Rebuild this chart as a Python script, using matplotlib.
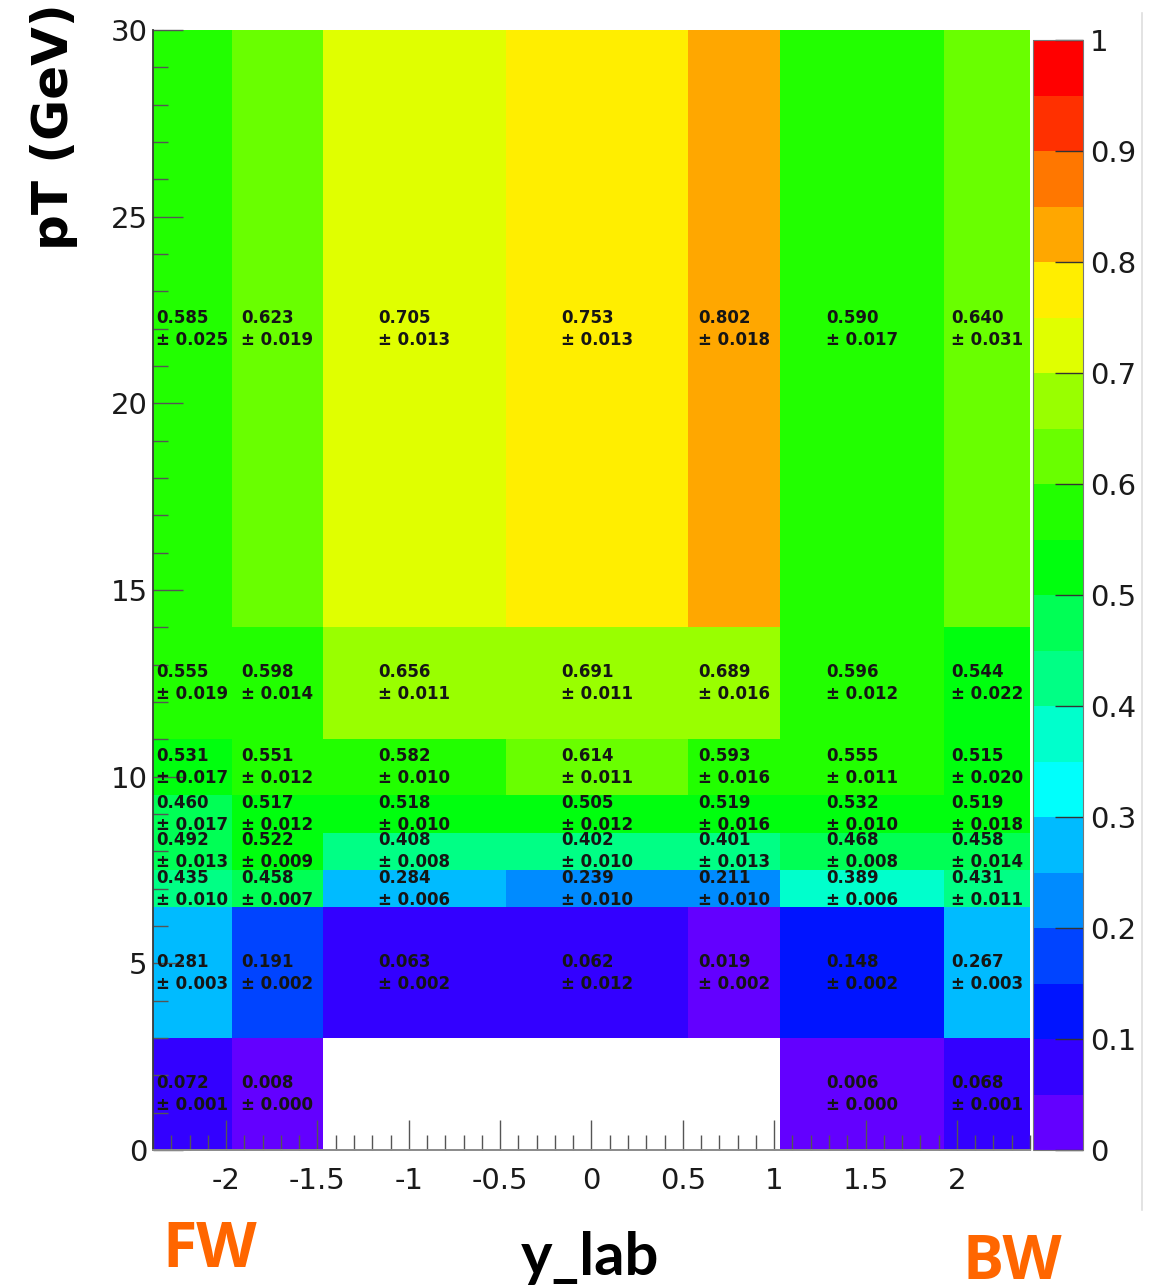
import colorsys
import numpy as np
import matplotlib
matplotlib.use("Agg")
import matplotlib.pyplot as plt
from matplotlib.colors import ListedColormap, BoundaryNorm
from matplotlib.cm import ScalarMappable
from matplotlib.lines import Line2D

nan = np.nan

# ---------------- data ----------------
y_lab_edges = [-2.4, -1.97, -1.47, -0.47, 0.53, 1.03, 1.93, 2.4]
pt_edges = [0, 3, 6.5, 7.5, 8.5, 9.5, 11, 14, 30]

# efficiency per pT row (bottom -> top), one value per y_lab column
eff_pt_0_3    = [0.072, 0.008, nan, nan, nan, 0.006, 0.068]
eff_pt_3_65   = [0.281, 0.191, 0.063, 0.062, 0.019, 0.148, 0.267]
eff_pt_65_75  = [0.435, 0.458, 0.284, 0.239, 0.211, 0.389, 0.431]
eff_pt_75_85  = [0.492, 0.522, 0.408, 0.402, 0.401, 0.468, 0.458]
eff_pt_85_95  = [0.460, 0.517, 0.518, 0.505, 0.519, 0.532, 0.519]
eff_pt_95_11  = [0.531, 0.551, 0.582, 0.614, 0.593, 0.555, 0.515]
eff_pt_11_14  = [0.555, 0.598, 0.656, 0.691, 0.689, 0.596, 0.544]
eff_pt_14_30  = [0.585, 0.623, 0.705, 0.753, 0.802, 0.590, 0.640]

err_pt_0_3    = [0.001, 0.000, nan, nan, nan, 0.000, 0.001]
err_pt_3_65   = [0.003, 0.002, 0.002, 0.012, 0.002, 0.002, 0.003]
err_pt_65_75  = [0.010, 0.007, 0.006, 0.010, 0.010, 0.006, 0.011]
err_pt_75_85  = [0.013, 0.009, 0.008, 0.010, 0.013, 0.008, 0.014]
err_pt_85_95  = [0.017, 0.012, 0.010, 0.012, 0.016, 0.010, 0.018]
err_pt_95_11  = [0.017, 0.012, 0.010, 0.011, 0.016, 0.011, 0.020]
err_pt_11_14  = [0.019, 0.014, 0.011, 0.011, 0.016, 0.012, 0.022]
err_pt_14_30  = [0.025, 0.019, 0.013, 0.013, 0.018, 0.017, 0.031]

x_tick_values = [-2, -1.5, -1, -0.5, 0, 0.5, 1, 1.5, 2]
x_tick_labels = ["-2", "-1.5", "-1", "-0.5", "0", "0.5", "1", "1.5", "2"]
y_tick_values = [0, 5, 10, 15, 20, 25, 30]
y_tick_labels = ["0", "5", "10", "15", "20", "25", "30"]
cbar_tick_values = [0, 0.1, 0.2, 0.3, 0.4, 0.5, 0.6, 0.7, 0.8, 0.9, 1.0]
cbar_tick_labels = ["0", "0.1", "0.2", "0.3", "0.4", "0.5", "0.6", "0.7", "0.8", "0.9", "1"]

eff_rows = [eff_pt_0_3, eff_pt_3_65, eff_pt_65_75, eff_pt_75_85,
            eff_pt_85_95, eff_pt_95_11, eff_pt_11_14, eff_pt_14_30]
err_rows = [err_pt_0_3, err_pt_3_65, err_pt_65_75, err_pt_75_85,
            err_pt_85_95, err_pt_95_11, err_pt_11_14, err_pt_14_30]

# ---------------- palette (ROOT "pretty" palette, 20 contours) ----------------
n_levels = 20
palette = []
for j in range(n_levels):
    idx = int((j + 0.99) * 50 / n_levels)
    hue = 280 - (idx + 1) * 5.6
    palette.append(colorsys.hls_to_rgb(hue / 360.0, 0.5, 1.0))
cmap = ListedColormap(palette)
norm = BoundaryNorm(np.linspace(0, 1, n_levels + 1), n_levels)

# ---------------- figure ----------------
W, H = 1162, 1285
fig = plt.figure(figsize=(W / 100, H / 100), dpi=100)
fig.patch.set_facecolor("white")

ax = fig.add_axes([153 / W, 1 - 1150 / H, (1030 - 153) / W, (1150 - 30) / H])
cax = fig.add_axes([1033 / W, 1 - 1150 / H, 50 / W, (1150 - 40) / H])

Z = np.ma.masked_invalid(np.array(eff_rows, dtype=float))
ax.pcolormesh(y_lab_edges, pt_edges, Z, cmap=cmap, norm=norm, zorder=1)

xe = np.array(y_lab_edges)
ye = np.array(pt_edges)
xc = 0.5 * (xe[:-1] + xe[1:])
yc = 0.5 * (ye[:-1] + ye[1:])
for i, (vals, errs) in enumerate(zip(eff_rows, err_rows)):
    for j, (v, e) in enumerate(zip(vals, errs)):
        if np.isnan(v):
            continue
        ax.text(xc[j], yc[i], f"{v:.3f}\n\u00b1 {e:.3f}", ha="center", va="center",
                multialignment="left", fontsize=12, fontweight="bold",
                family="DejaVu Sans", color="#151515", linespacing=1.3, zorder=5)

ax.set_xlim(-2.4, 2.4)
ax.set_ylim(0, 30)
ax.set_xticks(x_tick_values)
ax.set_xticklabels(x_tick_labels)
ax.set_yticks(y_tick_values)
ax.set_yticklabels(y_tick_labels)
ax.set_xticks(np.arange(-2.4, 2.41, 0.1), minor=True)
ax.set_yticks(np.arange(0, 31, 1), minor=True)

for lab in ax.get_xticklabels() + ax.get_yticklabels():
    lab.set_family("DejaVu Sans")
ax.tick_params(axis="both", which="major", direction="in", length=21.6, width=1.0,
               color="#555555", labelsize=21, labelcolor="#1a1a1a")
ax.tick_params(axis="both", which="minor", direction="in", length=10.8, width=1.0,
               color="#555555")
ax.tick_params(axis="x", which="major", pad=12)
ax.tick_params(axis="y", which="major", pad=4)
ax.tick_params(top=False, right=False, which="both")

ax.spines["top"].set_visible(False)
ax.spines["right"].set_visible(False)
ax.spines["left"].set_color("#3a3a3a")
ax.spines["left"].set_linewidth(1.3)
ax.spines["bottom"].set_color("#8a8a8a")
ax.spines["bottom"].set_linewidth(1.4)

sm = ScalarMappable(norm=norm, cmap=cmap)
cb = fig.colorbar(sm, cax=cax, ticks=cbar_tick_values)
cb.ax.set_yticklabels(cbar_tick_labels)
cb.ax.minorticks_off()
cb.ax.tick_params(direction="in", length=20, width=1.0, color="#333333",
                  labelsize=21, labelcolor="#1a1a1a", pad=5)
for lab in cb.ax.get_yticklabels():
    lab.set_family("DejaVu Sans")
cb.outline.set_edgecolor("#777777")
cb.outline.set_linewidth(0.8)

# ---------------- labels ----------------
fig.text(54 / W, 1 - 127 / H, "pT (GeV)", rotation=90, ha="center", va="center",
         fontsize=36, fontweight="bold", family="DejaVu Sans", color="black")
fig.text(590 / W, 1 - 1275 / H, "y_lab", ha="center", va="baseline",
         fontsize=43, fontweight="bold", family="Lato", color="black")
fig.text(162 / W, 1 - 1267 / H, "FW", ha="left", va="baseline",
         fontsize=45, fontweight="bold", family="Open Sans", color="#FF6600")
fig.text(962 / W, 1 - 1279 / H, "BW", ha="left", va="baseline",
         fontsize=44, fontweight="bold", family="Open Sans", color="#FF6600")

fig.add_artist(Line2D([1142 / W, 1142 / W], [1 - 13 / H, 1 - 1210 / H],
                      transform=fig.transFigure, color="#dedede", lw=1.2))

fig.savefig("out.png", dpi=100)
